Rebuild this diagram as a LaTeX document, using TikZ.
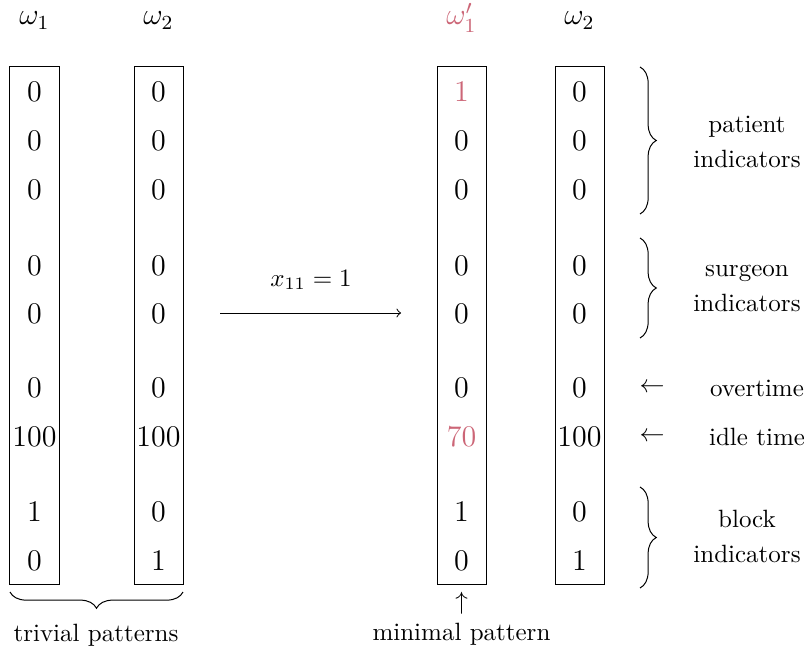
\documentclass[tikz,border=0pt]{standalone}
\usetikzlibrary{decorations.pathreplacing}
\definecolor{rose}{HTML}{CC6677}
\begin{document}
\begin{tikzpicture}[x=0.4pt,y=-0.4pt,
  colbox/.style={draw, line width=0.4pt, minimum width=19.6pt, minimum height=206.8pt, inner sep=0pt},
  num/.style={font=\large, inner sep=0pt, anchor=center},
  hdr/.style={font=\large, inner sep=0pt, anchor=base},
  lbl/.style={align=center, inner sep=0pt},
  brc/.style={decorate, decoration={brace, amplitude=6.5pt}},
  hl/.style={text=rose},
]
\useasboundingbox (0,0) rectangle (804,652);
% columns
\node[colbox] (c1) at (34.5,325.5) {};
\node[colbox] (c2) at (158.5,325.5) {};
\node[colbox] (c3) at (461.5,325.5) {};
\node[colbox] (c4) at (579.5,325.5) {};
% headers
\node[hdr] (h1) at (34.5,25) {$\omega_1$};
\node[hdr] (h2) at (158.5,25) {$\omega_2$};
\node[hdr, hl] (h3) at (461.5,25) {$\omega_1'$};
\node[hdr] (h4) at (579.5,25) {$\omega_2$};
% column 1
\node[num] (a1) at (34.5,92) {0};
\node[num] (a2) at (34.5,141) {0};
\node[num] (a3) at (34.5,190) {0};
\node[num] (a4) at (34.5,266) {0};
\node[num] (a5) at (34.5,314) {0};
\node[num] (a6) at (34.5,388) {0};
\node[num] (a7) at (34.5,437) {100};
\node[num] (a8) at (34.5,512) {1};
\node[num] (a9) at (34.5,561) {0};
% column 2
\node[num] (b1) at (158.5,92) {0};
\node[num] (b2) at (158.5,141) {0};
\node[num] (b3) at (158.5,190) {0};
\node[num] (b4) at (158.5,266) {0};
\node[num] (b5) at (158.5,314) {0};
\node[num] (b6) at (158.5,388) {0};
\node[num] (b7) at (158.5,437) {100};
\node[num] (b8) at (158.5,512) {0};
\node[num] (b9) at (158.5,561) {1};
% column 3
\node[num, hl] (d1) at (461.5,92) {1};
\node[num] (d2) at (461.5,141) {0};
\node[num] (d3) at (461.5,190) {0};
\node[num] (d4) at (461.5,266) {0};
\node[num] (d5) at (461.5,314) {0};
\node[num] (d6) at (461.5,388) {0};
\node[num, hl] (d7) at (461.5,437) {70};
\node[num] (d8) at (461.5,512) {1};
\node[num] (d9) at (461.5,561) {0};
% column 4
\node[num] (e1) at (579.5,92) {0};
\node[num] (e2) at (579.5,141) {0};
\node[num] (e3) at (579.5,190) {0};
\node[num] (e4) at (579.5,266) {0};
\node[num] (e5) at (579.5,314) {0};
\node[num] (e6) at (579.5,388) {0};
\node[num] (e7) at (579.5,437) {100};
\node[num] (e8) at (579.5,512) {0};
\node[num] (e9) at (579.5,561) {1};
% transition arrow
\coordinate (ts) at (220,313);
\coordinate (te) at (401,313);
\draw[->] (ts) -- (te);
\node[inner sep=0pt] (xl) at (311,280) {$x_{11}=1$};
% right braces
\coordinate (p1) at (640,67);  \coordinate (p2) at (640,214);
\coordinate (s1) at (640,238); \coordinate (s2) at (640,338);
\coordinate (k1) at (640,487); \coordinate (k2) at (640,588);
\draw[brc] (p1) -- (p2);
\draw[brc] (s1) -- (s2);
\draw[brc] (k1) -- (k2);
\node[lbl] (pl) at (747,142) {patient\\[2pt]indicators};
\node[lbl] (sl) at (747,288) {surgeon\\[2pt]indicators};
\node[lbl] (bl) at (747,536) {block\\[2pt]indicators};
% overtime / idle time
\node[inner sep=0pt] (ol) at (652,388) {$\leftarrow$};
\node[inner sep=0pt] (il) at (652,437) {$\leftarrow$};
\node[inner sep=0pt] (ot) at (757,388) {overtime};
\node[inner sep=0pt] (it) at (757,437) {idle time};
% bottom
\coordinate (q1) at (183,592);
\coordinate (q2) at (10,592);
\draw[brc] (q1) -- (q2);
\node[inner sep=0pt] (tp) at (96,635) {trivial patterns};
\node[inner sep=0pt] (up) at (461.5,603) {$\uparrow$};
\node[inner sep=0pt] (mp) at (461.5,634) {minimal pattern};
\end{tikzpicture}
\end{document}
